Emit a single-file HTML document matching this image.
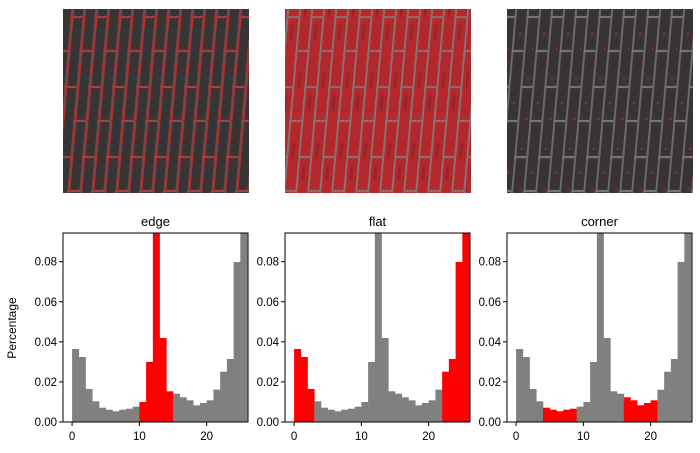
<!DOCTYPE html>
<html><head><meta charset="utf-8"><style>body{margin:0;background:#fff}svg{display:block}text{font-family:"Liberation Sans","DejaVu Sans",sans-serif;fill:#000}</style></head>
<body><svg id="s" width="700" height="453" xmlns="http://www.w3.org/2000/svg">
<defs>
<pattern id="p0" width="24" height="70" patternUnits="userSpaceOnUse" patternTransform="skewX(-5)">
<rect width="24" height="70" fill="#363434"/>
<rect x="0" width="2" height="70" fill="#7a4446"/><rect x="12" width="2" height="70" fill="#7a4446"/>
<rect x="0" y="16" width="12" height="2" fill="#b04040"/><rect x="12" y="50" width="12" height="2" fill="#b04040"/>
<rect x="2" width="1" height="70" fill="#c02a2a"/><rect x="14" width="1" height="70" fill="#c02a2a"/>
</pattern>
<pattern id="p1" width="24" height="70" patternUnits="userSpaceOnUse" patternTransform="skewX(-5)">
<rect width="24" height="70" fill="#b4282c"/>
<rect x="0" width="2" height="70" fill="#8a7072"/><rect x="12" width="2" height="70" fill="#8a7072"/>
<rect x="0" y="16" width="12" height="2" fill="#8a7072"/><rect x="12" y="50" width="12" height="2" fill="#8a7072"/>
<rect x="5" y="25" width="3" height="15" fill="#7a2024" opacity=".5"/><rect x="17" y="3" width="3" height="14" fill="#7a2024" opacity=".5"/>
</pattern>
<pattern id="p2" width="24" height="70" patternUnits="userSpaceOnUse" patternTransform="skewX(-5)">
<rect width="24" height="70" fill="#3a3333"/>
<rect x="0" width="2" height="70" fill="#6a6a6a"/><rect x="12" width="2" height="70" fill="#6a6a6a"/>
<rect x="0" y="16" width="12" height="2" fill="#7a7a7a"/><rect x="12" y="50" width="12" height="2" fill="#7a7a7a"/>
<rect x="6" y="8" width="2" height="2" fill="#a02828"/><rect x="18" y="32" width="2" height="2" fill="#a02828"/><rect x="8" y="48" width="2" height="2" fill="#a02828"/>
</pattern>
</defs>
<rect x="63" y="9" width="186" height="184" fill="url(#p0)"/>
<rect x="285" y="9" width="186" height="184" fill="url(#p1)"/>
<rect x="507" y="9" width="186" height="184" fill="url(#p2)"/>
<text x="16" y="328" font-size="12" text-anchor="middle" transform="rotate(-90 16 328)">Percentage</text>
</svg>
<script>
(function(){
var h=[73,65,33,20.7,14.3,12.3,10.7,12.3,13.3,15.3,20,60,300,84,30.7,28.3,24.7,21.7,16.7,19,21.7,32.3,50.3,63,160,300];
var reds=[[10,11,12,13,14],[0,1,2,22,23,24,25],[4,5,6,7,8,16,17,18,19,20]];
var titles=["edge","flat","corner"],lefts=[63,285,507];
var s=document.getElementById('s'),o='';
var T=233,B=422,W=185,ppu=6.73;
for(var k=0;k<3;k++){var L=lefts[k];var x0=L+1.35*ppu;
o+='<text x="'+(L+W/2)+'" y="226" font-size="13" text-anchor="middle">'+titles[k]+'</text>';
for(var i=0;i<26;i++){var hh=Math.min(h[i],B-T);var c=reds[k].indexOf(i)>=0?'#ff0000':'#808080';
o+='<rect x="'+(x0+i*ppu)+'" y="'+(B-hh)+'" width="'+(ppu+0.3)+'" height="'+hh+'" fill="'+c+'"/>';}
o+='<rect x="'+L+'" y="'+T+'" width="'+W+'" height="'+(B-T)+'" fill="none" stroke="#000" stroke-width="1"/>';
for(var t=0;t<=4;t++){var y=B-t*40.08;o+='<line x1="'+(L-4)+'" x2="'+L+'" y1="'+y+'" y2="'+y+'" stroke="#000"/>';
o+='<text x="'+(L-6)+'" y="'+(y+4)+'" font-size="11.5" text-anchor="end">'+(t*0.02).toFixed(2)+'</text>';}
for(var t=0;t<3;t++){var x=x0+t*10*ppu;o+='<line x1="'+x+'" x2="'+x+'" y1="'+B+'" y2="'+(B+4)+'" stroke="#000"/>';
o+='<text x="'+x+'" y="'+(B+18)+'" font-size="11.5" text-anchor="middle">'+(t*10)+'</text>';}
}
s.insertAdjacentHTML('beforeend',o);
})();
</script>
</body></html>
